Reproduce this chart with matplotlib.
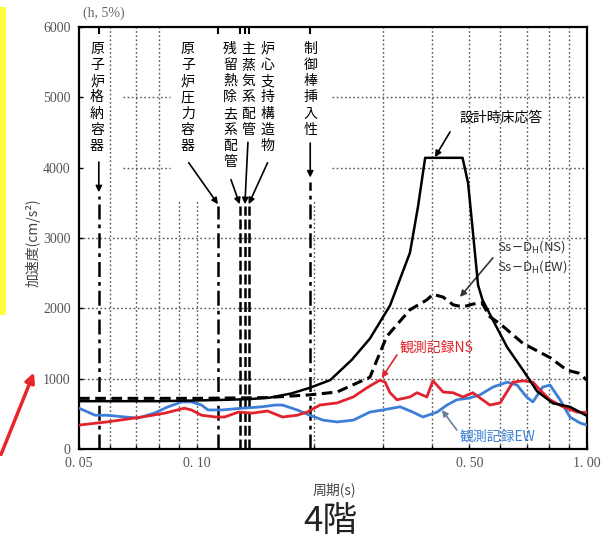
import matplotlib.pyplot as plt
from matplotlib.patches import Rectangle, FancyArrowPatch

plt.rcParams['font.family'] = ['Noto Sans CJK JP', 'DejaVu Sans']

# Floor response spectrum, 4th floor (h = 5%)
design_T = [0.05, 0.08, 0.10, 0.12, 0.137, 0.154, 0.175, 0.195, 0.22, 0.25, 0.278,
            0.313, 0.352, 0.369, 0.385, 0.48, 0.496, 0.51, 0.526, 0.54, 0.574, 0.624,
            0.686, 0.745, 0.818, 0.904, 1.0]
design_acc = [680, 680, 690, 700, 710, 730, 790, 870, 980, 1270, 1570,
              2040, 2790, 3440, 4140, 4140, 3780, 3100, 2330, 2120, 1835, 1450,
              1120, 820, 650, 600, 470]

ss_T = [0.05, 0.10, 0.15, 0.195, 0.229, 0.258, 0.278, 0.29, 0.307, 0.352, 0.389,
        0.403, 0.428, 0.454, 0.481, 0.51, 0.538, 0.564, 0.599, 0.686, 0.804, 0.889,
        0.95, 1.0]
ss_acc = [720, 720, 730, 770, 810, 940, 1020, 1270, 1600, 1980, 2120,
          2200, 2160, 2050, 2020, 2060, 2080, 1880, 1780, 1500, 1300, 1120,
          1080, 980]

ns_T = [0.05, 0.059, 0.0725, 0.083, 0.093, 0.097, 0.103, 0.112, 0.118, 0.128, 0.139,
        0.152, 0.166, 0.181, 0.192, 0.207, 0.229, 0.252, 0.273, 0.295, 0.304, 0.313,
        0.326, 0.352, 0.367, 0.389, 0.403, 0.428, 0.454, 0.481, 0.51, 0.54, 0.564,
        0.599, 0.628, 0.646, 0.686, 0.727, 0.758, 0.804, 0.868, 0.943, 1.0]
ns_acc = [340, 385, 455, 510, 580, 555, 480, 455, 455, 525, 510,
          540, 455, 480, 525, 625, 655, 740, 870, 980, 950, 800,
          700, 740, 800, 740, 970, 810, 800, 740, 800, 700, 625,
          655, 840, 950, 970, 950, 840, 700, 600, 525, 520]

ew_T = [0.05, 0.055, 0.059, 0.0656, 0.0708, 0.078, 0.0845, 0.0918, 0.097, 0.103, 0.107,
        0.116, 0.131, 0.147, 0.159, 0.166, 0.181, 0.195, 0.211, 0.229, 0.252, 0.278,
        0.30, 0.332, 0.358, 0.38, 0.413, 0.438, 0.464, 0.50, 0.532, 0.574, 0.624,
        0.662, 0.70, 0.727, 0.77, 0.804, 0.853, 0.904, 0.96, 1.0]
ew_acc = [580, 480, 480, 455, 440, 510, 600, 670, 670, 625, 555,
          555, 580, 600, 625, 625, 555, 480, 410, 385, 410, 525,
          555, 600, 525, 455, 525, 625, 700, 725, 770, 880, 950,
          910, 740, 670, 880, 910, 700, 455, 370, 340]

# natural periods of equipment
member_names = ["原子炉格納容器", "原子炉圧力容器", "残留熱除去系配管", "主蒸気系配管",
                "炉心支持構造物", "制御棒挿入性"]
member_T = [0.0562, 0.1135, 0.129, 0.133, 0.136, 0.195]

fig = plt.figure(figsize=(6.14, 5.42), dpi=100)
ax = fig.add_axes([79 / 614, 93 / 542, 508 / 614, 422 / 542])
ax.set_xscale('log')
ax.set_xlim(0.05, 1.0)
ax.set_ylim(0, 6000)

# grid (drawn by hand, parts hidden behind labels)
gcol = '#555555'
for t in [0.06, 0.07, 0.08, 0.3, 0.4, 0.5, 0.6, 0.7, 0.8, 0.9]:
    ax.vlines(t, 0, 6000, colors=gcol, linestyles=(0, (1.2, 1.8)), lw=1.0, zorder=1)
for t in [0.09, 0.1, 0.2]:
    ax.vlines(t, 0, 3550, colors=gcol, linestyles=(0, (1.2, 1.8)), lw=1.0, zorder=1)
for v in [1000, 2000, 3000]:
    ax.hlines(v, 0.05, 1.0, colors=gcol, linestyles=(0, (1.2, 1.8)), lw=1.0, zorder=1)
for v in [4000, 5000]:
    ax.hlines(v, 0.0648, 0.0855, colors=gcol, linestyles=(0, (1.2, 1.8)), lw=1.0, zorder=1)
    ax.hlines(v, 0.222, 1.0, colors=gcol, linestyles=(0, (1.2, 1.8)), lw=1.0, zorder=1)

# equipment period lines
tops = [3600, 3450, 3450, 3450, 3450, 3800]
styles = [(0, (6, 2, 1.5, 2)), (0, (6, 2, 1.5, 2)), (0, (4, 1.5)), (0, (4, 1.5)),
          (0, (4, 1.5)), (0, (6, 2, 1.5, 2))]
for t, top, ls in zip(member_T, tops, styles):
    ax.vlines(t, 0, top, colors='k', linestyles=ls, lw=1.8, zorder=2)
    ax.vlines(t, 5900, 6000, colors='k', lw=1.5, zorder=2)

# spectra
ax.plot(ew_T, ew_acc, color='#3d7fd6', lw=2.0, zorder=3)
ax.plot(ns_T, ns_acc, color='#e0232d', lw=2.0, zorder=4)
ax.plot(ss_T, ss_acc, color='k', lw=2.2, ls=(0, (3.5, 1.8)), zorder=5)
ax.plot(design_T, design_acc, color='k', lw=1.8, zorder=6)

# vertical equipment labels
label_x = [0.0556, 0.095, 0.1218, 0.1354, 0.152, 0.1955]
for name, x in zip(member_names, label_x):
    ax.text(x, 5790, "\n".join(name), ha='center', va='top', fontsize=10,
            linespacing=1.2, zorder=7)

arr = dict(arrowstyle='-|>', color='k', lw=1.2, mutation_scale=9, shrinkA=0, shrinkB=0)
ax.annotate('', xy=(0.0562, 3650), xytext=(0.0562, 4080), arrowprops=arr)
ax.annotate('', xy=(0.1135, 3480), xytext=(0.0955, 4070), arrowprops=arr)
ax.annotate('', xy=(0.129, 3480), xytext=(0.1225, 3830), arrowprops=arr)
ax.annotate('', xy=(0.133, 3480), xytext=(0.1354, 4360), arrowprops=arr)
ax.annotate('', xy=(0.136, 3480), xytext=(0.152, 4070), arrowprops=arr)
ax.annotate('', xy=(0.1955, 3860), xytext=(0.1955, 4350), arrowprops=arr)

# curve labels
ax.text(0.602, 4708, "設計時床応答", ha='center', va='center', fontsize=10)
ax.annotate('', xy=(0.408, 4150), xytext=(0.446, 4510), arrowprops=arr)
ax.text(0.588, 2873, r"Ss$-$D$_\mathrm{H}$(NS)", ha='left', va='center', fontsize=9.5,
        color='#333333')
ax.text(0.588, 2589, r"Ss$-$D$_\mathrm{H}$(EW)", ha='left', va='center', fontsize=9.5,
        color='#333333')
ax.annotate('', xy=(0.473, 2162), xytext=(0.574, 2717),
            arrowprops=dict(arr, color='#333333'))
ax.text(0.332, 1437, "観測記録NS", ha='left', va='center', fontsize=10, color='#e0232d')
ax.annotate('', xy=(0.298, 1010), xytext=(0.326, 1337),
            arrowprops=dict(arr, color='#e0232d'))
ax.text(0.473, 171, "観測記録EW", ha='left', va='center', fontsize=10, color='#3d7fd6')
ax.annotate('', xy=(0.425, 555), xytext=(0.464, 270),
            arrowprops=dict(arr, color='#6a7f9a'))

# axes styling
for s in ax.spines.values():
    s.set_linewidth(1.6)
ax.set_yticks([0, 1000, 2000, 3000, 4000, 5000, 6000])
ax.set_yticklabels(["0", "1000", "2000", "3000", "4000", "5000", "6000"],
                   family='Liberation Serif', fontsize=10, color='#555555')
ax.set_xticks([0.05, 0.10, 0.50, 1.00])
ax.set_xticklabels(["0. 05", "0. 10", "0. 50", "1. 00"],
                   family='Liberation Serif', fontsize=10, color='#555555')
ax.set_xticks([0.06, 0.07, 0.08, 0.09, 0.2, 0.3, 0.4, 0.6, 0.7, 0.8, 0.9], minor=True)
ax.xaxis.set_minor_formatter(plt.NullFormatter())
ax.tick_params(axis='both', which='both', direction='in', length=3, width=1.0, pad=6)

fig.text(83 / 614, 1 - 13 / 542, "(h, 5%)", ha='left', va='center',
         family='Liberation Serif', fontsize=10, color='#666666')
fig.text(33 / 614, 1 - 243 / 542, "加速度(cm/s²)", rotation=90, ha='center', va='center',
         fontsize=10, color='#444444')
fig.text(334 / 614, 1 - 490 / 542, "周期(s)", ha='center', va='center',
         fontsize=10, color='#444444')
fig.text(330 / 614, 1 - 521 / 542, "4階", ha='center', va='center', fontsize=25,
         color='#222222')

# yellow marker bar and red pointer arrow at the left edge
fig.patches.append(Rectangle((0, 1 - 315 / 542), 6 / 614, 308 / 542,
                             transform=fig.transFigure, color='#ffff3c', lw=0))
fig.patches.append(FancyArrowPatch((0, 1 - 457 / 542), (35 / 614, 1 - 370 / 542),
                                   transform=fig.transFigure, arrowstyle='-|>',
                                   mutation_scale=14, color='#e8262a', lw=2.5))

fig.savefig("out.png", dpi=100)
